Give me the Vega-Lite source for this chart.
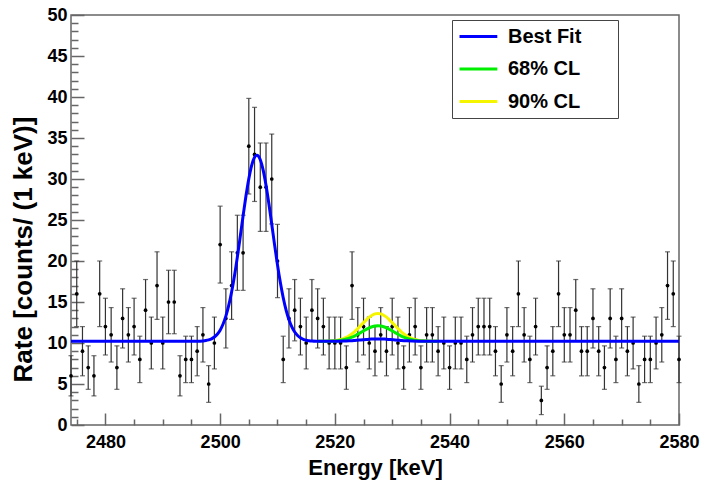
{
  "$schema": "https://vega.github.io/schema/vega-lite/v6.json",
  "width": 608,
  "height": 410,
  "autosize": "none",
  "padding": {"left": 71, "top": 15, "right": 23, "bottom": 55},
  "background": "white",
  "config": {
    "font": "Liberation Sans",
    "view": {"stroke": "#666666", "strokeWidth": 1.5},
    "axis": {"grid": false, "domain": false, "tickColor": "#666666", "tickWidth": 1.5, "labelFont": "Liberation Sans", "labelFontWeight": "bold", "labelFontSize": 18, "labelColor": "black", "labelFlush": false, "labelOverlap": false, "titleFont": "Liberation Sans", "titleFontWeight": "bold", "titleFontSize": 22, "titleColor": "black"}
  },
  "datasets": {
    "pts": [
      {"e":2474,"n":6,"lo":3.55,"hi":8.45},{"e":2475,"n":16,"lo":12,"hi":20},{"e":2476,"n":9,"lo":6,"hi":12},{"e":2477,"n":7,"lo":4.35,"hi":9.65},{"e":2478,"n":6,"lo":3.55,"hi":8.45},{"e":2479,"n":16,"lo":12,"hi":20},{"e":2480,"n":12,"lo":8.54,"hi":15.46},{"e":2481,"n":11,"lo":7.68,"hi":14.32},{"e":2482,"n":7,"lo":4.35,"hi":9.65},{"e":2483,"n":13,"lo":9.39,"hi":16.61},
      {"e":2484,"n":11,"lo":7.68,"hi":14.32},{"e":2485,"n":12,"lo":8.54,"hi":15.46},{"e":2486,"n":8,"lo":5.17,"hi":10.83},{"e":2487,"n":14,"lo":10.26,"hi":17.74},{"e":2488,"n":10,"lo":6.84,"hi":13.16},{"e":2489,"n":17,"lo":12.88,"hi":21.12},{"e":2490,"n":10,"lo":6.84,"hi":13.16},{"e":2491,"n":15,"lo":11.13,"hi":18.87},{"e":2492,"n":15,"lo":11.13,"hi":18.87},{"e":2493,"n":6,"lo":3.55,"hi":8.45},
      {"e":2494,"n":8,"lo":5.17,"hi":10.83},{"e":2495,"n":8,"lo":5.17,"hi":10.83},{"e":2496,"n":9,"lo":6,"hi":12},{"e":2497,"n":11,"lo":7.68,"hi":14.32},{"e":2498,"n":5,"lo":2.76,"hi":7.24},{"e":2499,"n":10,"lo":6.84,"hi":13.16},{"e":2500,"n":22,"lo":17.31,"hi":26.69},{"e":2501,"n":13,"lo":9.39,"hi":16.61},{"e":2502,"n":17,"lo":12.88,"hi":21.12},{"e":2503,"n":21,"lo":16.42,"hi":25.58},
      {"e":2504,"n":21,"lo":16.42,"hi":25.58},{"e":2505,"n":34,"lo":28.17,"hi":39.83},{"e":2506,"n":33,"lo":27.26,"hi":38.74},{"e":2507,"n":29,"lo":23.61,"hi":34.39},{"e":2508,"n":29,"lo":23.61,"hi":34.39},{"e":2509,"n":30,"lo":24.52,"hi":35.48},{"e":2510,"n":20,"lo":15.53,"hi":24.47},{"e":2511,"n":8,"lo":5.17,"hi":10.83},{"e":2512,"n":13,"lo":9.39,"hi":16.61},{"e":2513,"n":14,"lo":10.26,"hi":17.74},
      {"e":2514,"n":12,"lo":8.54,"hi":15.46},{"e":2515,"n":10,"lo":6.84,"hi":13.16},{"e":2516,"n":14,"lo":10.26,"hi":17.74},{"e":2517,"n":13,"lo":9.39,"hi":16.61},{"e":2518,"n":12,"lo":8.54,"hi":15.46},{"e":2519,"n":10,"lo":6.84,"hi":13.16},{"e":2520,"n":10,"lo":6.84,"hi":13.16},{"e":2521,"n":10,"lo":6.84,"hi":13.16},{"e":2522,"n":7,"lo":4.35,"hi":9.65},{"e":2523,"n":17,"lo":12.88,"hi":21.12},
      {"e":2524,"n":11,"lo":7.68,"hi":14.32},{"e":2525,"n":12,"lo":8.54,"hi":15.46},{"e":2526,"n":10,"lo":6.84,"hi":13.16},{"e":2527,"n":9,"lo":6,"hi":12},{"e":2528,"n":11,"lo":7.68,"hi":14.32},{"e":2529,"n":9,"lo":6,"hi":12},{"e":2530,"n":12,"lo":8.54,"hi":15.46},{"e":2531,"n":10,"lo":6.84,"hi":13.16},{"e":2532,"n":7,"lo":4.35,"hi":9.65},{"e":2533,"n":11,"lo":7.68,"hi":14.32},
      {"e":2534,"n":12,"lo":8.54,"hi":15.46},{"e":2535,"n":7,"lo":4.35,"hi":9.65},{"e":2536,"n":11,"lo":7.68,"hi":14.32},{"e":2537,"n":11,"lo":7.68,"hi":14.32},{"e":2538,"n":9,"lo":6,"hi":12},{"e":2539,"n":10,"lo":6.84,"hi":13.16},{"e":2540,"n":7,"lo":4.35,"hi":9.65},{"e":2541,"n":10,"lo":6.84,"hi":13.16},{"e":2542,"n":10,"lo":6.84,"hi":13.16},{"e":2543,"n":8,"lo":5.17,"hi":10.83},
      {"e":2544,"n":11,"lo":7.68,"hi":14.32},{"e":2545,"n":12,"lo":8.54,"hi":15.46},{"e":2546,"n":12,"lo":8.54,"hi":15.46},{"e":2547,"n":12,"lo":8.54,"hi":15.46},{"e":2548,"n":9,"lo":6,"hi":12},{"e":2549,"n":5,"lo":2.76,"hi":7.24},{"e":2550,"n":11,"lo":7.68,"hi":14.32},{"e":2551,"n":9,"lo":6,"hi":12},{"e":2552,"n":16,"lo":12,"hi":20},{"e":2553,"n":11,"lo":7.68,"hi":14.32},
      {"e":2554,"n":8,"lo":5.17,"hi":10.83},{"e":2555,"n":12,"lo":8.54,"hi":15.46},{"e":2556,"n":3,"lo":1.27,"hi":4.73},{"e":2557,"n":7,"lo":4.35,"hi":9.65},{"e":2558,"n":9,"lo":6,"hi":12},{"e":2559,"n":16,"lo":12,"hi":20},{"e":2560,"n":11,"lo":7.68,"hi":14.32},{"e":2561,"n":11,"lo":7.68,"hi":14.32},{"e":2562,"n":14,"lo":10.26,"hi":17.74},{"e":2563,"n":9,"lo":6,"hi":12},
      {"e":2564,"n":9,"lo":6,"hi":12},{"e":2565,"n":13,"lo":9.39,"hi":16.61},{"e":2566,"n":9,"lo":6,"hi":12},{"e":2567,"n":7,"lo":4.35,"hi":9.65},{"e":2568,"n":13,"lo":9.39,"hi":16.61},{"e":2569,"n":8,"lo":5.17,"hi":10.83},{"e":2570,"n":13,"lo":9.39,"hi":16.61},{"e":2571,"n":9,"lo":6,"hi":12},{"e":2572,"n":10,"lo":6.84,"hi":13.16},{"e":2573,"n":5,"lo":2.76,"hi":7.24},
      {"e":2574,"n":8,"lo":5.17,"hi":10.83},{"e":2575,"n":8,"lo":5.17,"hi":10.83},{"e":2576,"n":10,"lo":6.84,"hi":13.16},{"e":2577,"n":11,"lo":7.68,"hi":14.32},{"e":2578,"n":17,"lo":12.88,"hi":21.12},{"e":2579,"n":16,"lo":12,"hi":20},{"e":2580,"n":8,"lo":5.17,"hi":10.83}
    ],
    "fit": [
      {"e":2474,"v":10.2},{"e":2496,"v":10.2},{"e":2496.5,"v":10.22},{"e":2497,"v":10.25},{"e":2497.5,"v":10.3},{"e":2498,"v":10.38},{"e":2498.5,"v":10.51},{"e":2499,"v":10.73},{"e":2499.5,"v":11.07},{"e":2500,"v":11.57},{"e":2500.5,"v":12.28},{"e":2501,"v":13.27},{"e":2501.5,"v":14.58},{"e":2502,"v":16.22},{"e":2502.5,"v":18.2},{"e":2503,"v":20.47},{"e":2503.5,"v":22.95},{"e":2504,"v":25.49},{"e":2504.5,"v":27.92},{"e":2505,"v":30.04},{"e":2505.5,"v":31.67},{"e":2506,"v":32.65},{"e":2506.4,"v":32.9},{"e":2507,"v":32.35},{"e":2507.5,"v":31.09},{"e":2508,"v":29.25},{"e":2508.5,"v":26.98},{"e":2509,"v":24.48},{"e":2509.5,"v":21.94},{"e":2510,"v":19.53},{"e":2510.5,"v":17.37},{"e":2511,"v":15.52},{"e":2511.5,"v":14.01},{"e":2512,"v":12.84},{"e":2512.5,"v":11.97},{"e":2513,"v":11.34},{"e":2513.5,"v":10.92},{"e":2514,"v":10.63},{"e":2514.5,"v":10.45},{"e":2515,"v":10.34},{"e":2515.5,"v":10.28},{"e":2516,"v":10.24},{"e":2517,"v":10.21},{"e":2518,"v":10.2},{"e":2519.5,"v":10.21},{"e":2520.5,"v":10.22},{"e":2521.5,"v":10.23},{"e":2522.5,"v":10.26},{"e":2523,"v":10.28},{"e":2523.5,"v":10.31},{"e":2524,"v":10.34},{"e":2524.5,"v":10.37},{"e":2525,"v":10.4},{"e":2525.5,"v":10.43},{"e":2526,"v":10.46},{"e":2526.5,"v":10.48},{"e":2527,"v":10.5},{"e":2527.5,"v":10.5},{"e":2528,"v":10.5},{"e":2528.5,"v":10.48},{"e":2529,"v":10.46},{"e":2529.5,"v":10.43},{"e":2530,"v":10.4},{"e":2530.5,"v":10.37},{"e":2531,"v":10.34},{"e":2531.5,"v":10.31},{"e":2532,"v":10.28},{"e":2532.5,"v":10.26},{"e":2533.5,"v":10.23},{"e":2534.5,"v":10.21},{"e":2535.5,"v":10.2},{"e":2580,"v":10.2}
    ],
    "cl68": [
      {"e":2517,"v":10.2},{"e":2518.5,"v":10.21},{"e":2519.5,"v":10.23},{"e":2520,"v":10.25},{"e":2520.5,"v":10.28},{"e":2521,"v":10.33},{"e":2521.5,"v":10.39},{"e":2522,"v":10.48},{"e":2522.5,"v":10.59},{"e":2523,"v":10.72},{"e":2523.5,"v":10.88},{"e":2524,"v":11.07},{"e":2524.5,"v":11.27},{"e":2525,"v":11.48},{"e":2525.5,"v":11.67},{"e":2526,"v":11.85},{"e":2526.5,"v":11.98},{"e":2527,"v":12.07},{"e":2527.5,"v":12.1},{"e":2528,"v":12.07},{"e":2528.5,"v":11.98},{"e":2529,"v":11.85},{"e":2529.5,"v":11.67},{"e":2530,"v":11.48},{"e":2530.5,"v":11.27},{"e":2531,"v":11.07},{"e":2531.5,"v":10.88},{"e":2532,"v":10.72},{"e":2532.5,"v":10.59},{"e":2533,"v":10.48},{"e":2533.5,"v":10.39},{"e":2534,"v":10.33},{"e":2534.5,"v":10.28},{"e":2535,"v":10.25},{"e":2535.5,"v":10.23},{"e":2536.5,"v":10.21},{"e":2538,"v":10.2}
    ],
    "cl90": [
      {"e":2517,"v":10.2},{"e":2517.5,"v":10.21},{"e":2518.5,"v":10.22},{"e":2519,"v":10.23},{"e":2519.5,"v":10.26},{"e":2520,"v":10.29},{"e":2520.5,"v":10.35},{"e":2521,"v":10.43},{"e":2521.5,"v":10.54},{"e":2522,"v":10.69},{"e":2522.5,"v":10.89},{"e":2523,"v":11.13},{"e":2523.5,"v":11.43},{"e":2524,"v":11.76},{"e":2524.5,"v":12.12},{"e":2525,"v":12.48},{"e":2525.5,"v":12.83},{"e":2526,"v":13.15},{"e":2526.5,"v":13.39},{"e":2527,"v":13.55},{"e":2527.5,"v":13.6},{"e":2528,"v":13.55},{"e":2528.5,"v":13.39},{"e":2529,"v":13.15},{"e":2529.5,"v":12.83},{"e":2530,"v":12.48},{"e":2530.5,"v":12.12},{"e":2531,"v":11.76},{"e":2531.5,"v":11.43},{"e":2532,"v":11.13},{"e":2532.5,"v":10.89},{"e":2533,"v":10.69},{"e":2533.5,"v":10.54},{"e":2534,"v":10.43},{"e":2534.5,"v":10.35},{"e":2535,"v":10.29},{"e":2535.5,"v":10.26},{"e":2536,"v":10.23},{"e":2536.5,"v":10.22},{"e":2537.5,"v":10.21},{"e":2538,"v":10.2}
    ]
  },
  "layer": [
    {
      "data": {"name": "pts"},
      "mark": {"type": "rule", "color": "#333333", "strokeWidth": 1.2},
      "encoding": {
        "x": {"field": "e", "type": "quantitative", "scale": {"domain": [2474, 2580], "nice": false, "zero": false},
          "axis": {"orient": "bottom", "values": [2480, 2500, 2520, 2540, 2560, 2580], "format": "d", "tickSize": -12, "labelPadding": 20, "title": "Energy [keV]", "titleX": 304, "titleY": 49, "titleBaseline": "alphabetic", "titleAnchor": "middle", "titleAlign": "center"}},
        "y": {"field": "lo", "type": "quantitative", "scale": {"domain": [0, 50], "nice": false},
          "axis": {"orient": "left", "values": [0, 5, 10, 15, 20, 25, 30, 35, 40, 45, 50], "format": "d", "tickSize": -13, "labelPadding": 17, "labelBaseline": "middle", "title": "Rate [counts/ (1 keV)]", "titleFontSize": 26, "titleX": -48, "titleY": 234, "titleBaseline": "middle", "titleAlign": "center", "titleAngle": -90}},
        "y2": {"field": "hi"}
      }
    },
    {
      "data": {"name": "pts"},
      "mark": {"type": "tick", "orient": "horizontal", "color": "#333333", "thickness": 1.2, "size": 5},
      "encoding": {
        "x": {"field": "e", "type": "quantitative", "scale": {"domain": [2474, 2580], "nice": false, "zero": false},
          "axis": {"orient": "bottom", "values": [2475, 2485, 2490, 2495, 2505, 2510, 2515, 2525, 2530, 2535, 2545, 2550, 2555, 2565, 2570, 2575], "tickSize": -6, "labels": false, "title": null}},
        "y": {"field": "lo", "type": "quantitative", "scale": {"domain": [0, 50], "nice": false},
          "axis": {"orient": "left", "values": [1,2,3,4,6,7,8,9,11,12,13,14,16,17,18,19,21,22,23,24,26,27,28,29,31,32,33,34,36,37,38,39,41,42,43,44,46,47,48,49], "tickSize": -7, "labels": false, "title": null}}
      }
    },
    {
      "data": {"name": "pts"},
      "mark": {"type": "tick", "orient": "horizontal", "color": "#333333", "thickness": 1.2, "size": 5},
      "encoding": {
        "x": {"field": "e", "type": "quantitative", "axis": null},
        "y": {"field": "hi", "type": "quantitative", "axis": null}
      }
    },
    {
      "data": {"name": "pts"},
      "mark": {"type": "circle", "color": "black", "opacity": 1, "size": 14},
      "encoding": {
        "x": {"field": "e", "type": "quantitative", "axis": null},
        "y": {"field": "n", "type": "quantitative", "axis": null}
      }
    },
    {
      "data": {"name": "cl90"},
      "mark": {"type": "line", "strokeWidth": 3, "interpolate": "monotone"},
      "encoding": {
        "x": {"field": "e", "type": "quantitative", "axis": null},
        "y": {"field": "v", "type": "quantitative", "axis": null},
        "color": {"datum": "90% CL\u2800\u2800", "type": "nominal",
          "scale": {"domain": ["Best Fit\u2800\u2800", "68% CL\u2800\u2800", "90% CL\u2800\u2800"], "range": ["#0000ff", "#00ee00", "#f5f500"]},
          "legend": {"orient": "none", "legendX": 381, "legendY": 5, "title": null, "direction": "vertical", "strokeColor": "#444444", "fillColor": "white", "padding": 6, "symbolType": "M-1,0H3.2", "symbolSize": 324, "symbolStrokeWidth": 3, "symbolFillColor": "transparent", "labelFont": "Liberation Sans", "labelFontWeight": "bold", "labelFontSize": 20, "labelColor": "black", "labelOffset": 29, "rowPadding": 11.5, "labelLimit": 0}}
      }
    },
    {
      "data": {"name": "cl68"},
      "mark": {"type": "line", "strokeWidth": 3, "interpolate": "monotone"},
      "encoding": {
        "x": {"field": "e", "type": "quantitative", "axis": null},
        "y": {"field": "v", "type": "quantitative", "axis": null},
        "color": {"datum": "68% CL\u2800\u2800", "type": "nominal"}
      }
    },
    {
      "data": {"name": "fit"},
      "mark": {"type": "line", "strokeWidth": 3, "interpolate": "monotone"},
      "encoding": {
        "x": {"field": "e", "type": "quantitative", "axis": null},
        "y": {"field": "v", "type": "quantitative", "axis": null},
        "color": {"datum": "Best Fit\u2800\u2800", "type": "nominal"}
      }
    }
  ],
  "resolve": {"axis": {"x": "independent", "y": "independent"}}
}
